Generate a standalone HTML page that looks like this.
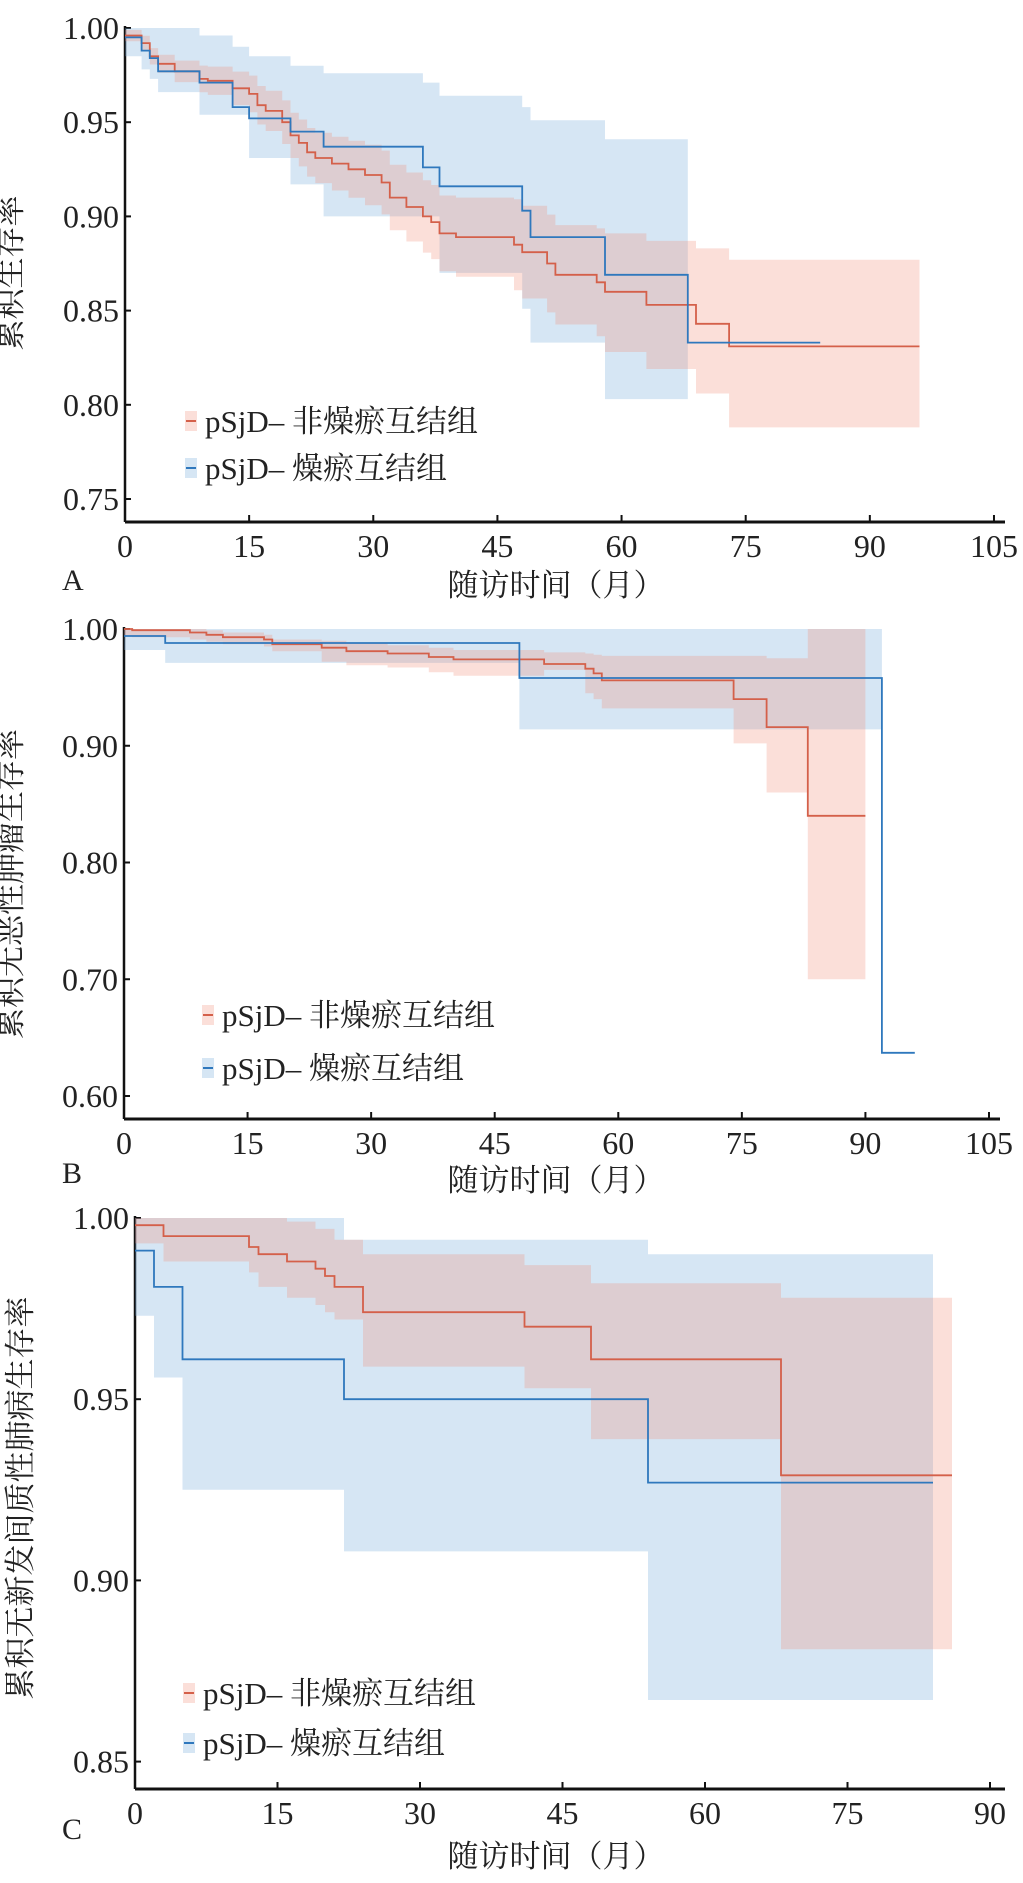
<!DOCTYPE html>
<html><head><meta charset="utf-8"><style>
html,body{margin:0;padding:0;background:#fff;}
svg text{font-family:"Liberation Serif","Noto Serif CJK SC",serif;fill:#222;}
</style></head><body>
<svg id="s" width="1023" height="1878" xmlns="http://www.w3.org/2000/svg"></svg>
<script>
const S=document.getElementById('s');
let H='';
const RL='#d4604a',BL='#2f78bd',RF='rgba(240,140,118,0.28)',BF='rgba(120,172,218,0.30)';
function step(arr,tEnd,X,Y){let p=[];for(let i=0;i<arr.length;i++){const t=arr[i][0],v=arr[i][1];const tn=i+1<arr.length?arr[i+1][0]:tEnd;p.push([X(t),Y(v)]);p.push([X(tn),Y(v)]);}return p;}
function line(arr,tEnd,X,Y,c){const p=step(arr,tEnd,X,Y);H+=`<polyline points="${p.map(q=>q[0].toFixed(1)+','+q[1].toFixed(1)).join(' ')}" fill="none" stroke="${c}" stroke-width="1.8"/>`;}
function band(ci,tEnd,X,Y,c){const u=step(ci.map(a=>[a[0],a[1]]),tEnd,X,Y),l=step(ci.map(a=>[a[0],a[2]]),tEnd,X,Y).reverse();H+=`<polygon points="${u.concat(l).map(q=>q[0].toFixed(1)+','+q[1].toFixed(1)).join(' ')}" fill="${c}" stroke="none"/>`;}
function axes(c){const{x0,xm,yv,yp,ppu,yticks,xticks,axY,axR,top}=c;
 const X=t=>x0+t*xm,Y=v=>yp+(yv-v)*ppu;
 H+=`<line x1="${x0}" y1="${top}" x2="${x0}" y2="${axY}" stroke="#111" stroke-width="2.5"/>`;
 H+=`<line x1="${x0}" y1="${axY}" x2="${axR}" y2="${axY}" stroke="#111" stroke-width="3"/>`;
 yticks.forEach(v=>{const y=Y(v);H+=`<line x1="${x0}" y1="${y}" x2="${x0+6}" y2="${y}" stroke="#111" stroke-width="2"/><text x="${x0-6}" y="${y+11}" font-size="32" text-anchor="end">${v.toFixed(2)}</text>`;});
 xticks.forEach(t=>{const x=X(t);H+=`<line x1="${x}" y1="${axY}" x2="${x}" y2="${axY-7}" stroke="#111" stroke-width="2"/><text x="${x}" y="${axY+35}" font-size="32" text-anchor="middle">${t}</text>`;});
 return [X,Y];}
function legend(x,y1,y2){
 H+=`<rect x="${x-6}" y="${y1-10}" width="12" height="20" fill="${RF}"/><line x1="${x-5}" y1="${y1}" x2="${x+5}" y2="${y1}" stroke="${RL}" stroke-width="2"/>`;
 H+=`<rect x="${x-6}" y="${y2-10}" width="12" height="20" fill="${BF}"/><line x1="${x-5}" y1="${y2}" x2="${x+5}" y2="${y2}" stroke="${BL}" stroke-width="2"/>`;
 H+=`<text x="${x+14}" y="${y1+11}" font-size="31">pSjD– 非燥瘀互结组</text><text x="${x+14}" y="${y2+11}" font-size="31">pSjD– 燥瘀互结组</text>`;}
function labels(letter,ly,xlY,ylX,ylY,ylab){
 H+=`<text x="62" y="${ly+11}" font-size="30">${letter}</text>`;
 H+=`<text x="556" y="${xlY+11}" font-size="31" text-anchor="middle">随访时间（月）</text>`;
 H+=`<text transform="translate(${ylX+11},${ylY}) rotate(-90)" font-size="31" text-anchor="middle">${ylab}</text>`;}

// ---------- Panel A
{const [X,Y]=axes({x0:125,xm:8.276,yv:1.0,yp:28,ppu:1884,yticks:[1.0,0.95,0.9,0.85,0.8,0.75],xticks:[0,15,30,45,60,75,90,105],axY:522,axR:1005,top:26});
 const B=[[0,.995],[2,.988],[3,.984],[4,.977],[9,.971],[13,.958],[15,.952],[20,.945],[24,.937],[36,.926],[38,.916],[48,.903],[49,.889],[58,.869],[68,.833]];
 const Bci=[[0,1,.985],[2,1,.978],[3,1,.973],[4,1,.966],[9,.996,.954],[13,.990,.954],[15,.985,.931],[20,.980,.917],[24,.976,.900],[36,.971,.900],[38,.964,.870],[48,.958,.851],[49,.951,.833],[58,.941,.803]];
 const R=[[0,.996],[2,.992],[3,.985],[4,.981],[6,.977],[9,.973],[10,.972],[13,.968],[15,.965],[16,.959],[17,.956],[19,.950],[20,.943],[21,.939],[22,.934],[23,.931],[25,.928],[27,.925],[29,.922],[31,.918],[32,.910],[34,.905],[36,.900],[37,.897],[38,.891],[40,.889],[47,.885],[48,.881],[51,.875],[52,.869],[57,.865],[58,.860],[63,.853],[69,.843],[73,.831]];
 let Rci=R.filter(a=>a[0]<58).map(a=>{const d=0.003+0.00045*a[0];return [a[0],Math.min(1,a[1]+d),a[1]-d];});
 Rci=Rci.concat([[58,.891,.828],[63,.887,.819],[69,.883,.806],[73,.877,.788]]);
 band(Bci,68,X,Y,BF);band(Rci,96,X,Y,RF);
 line(R,96,X,Y,RL);line(B,84,X,Y,BL);
 legend(191,421,468);labels('A',579,585,10,273,'累积生存率');}

// ---------- Panel B
{const [X,Y]=axes({x0:124,xm:8.238,yv:1.0,yp:629,ppu:1167.5,yticks:[1.0,0.9,0.8,0.7,0.6],xticks:[0,15,30,45,60,75,90,105],axY:1119,axR:1000,top:627});
 const B=[[0,.994],[5,.988],[48,.958],[92,.637]];
 const Bci=[[0,1,.982],[5,1,.971],[48,1,.914]];
 const R=[[0,1],[1,.999],[8,.997],[10,.995],[12,.993],[17,.991],[18,.987],[24,.984],[27,.981],[32,.979],[37,.976],[40,.974],[51,.970],[56,.966],[57,.962],[58,.956],[74,.940],[78,.916],[83,.840]];
 let Rci=R.filter(a=>a[0]<24).map(a=>[a[0],Math.min(1,a[1]+.004),a[1]-.006]);
 Rci=Rci.concat([[24,.990,.972],[27,.988,.969],[32,.986,.967],[37,.984,.963],[40,.982,.960],[51,.980,.965],[56,.979,.945],[57,.978,.940],[58,.977,.932],[74,.977,.902],[78,.975,.860],[83,1,.700]]);
 band(Bci,92,X,Y,BF);band(Rci,90,X,Y,RF);
 line(R,90,X,Y,RL);line(B,96,X,Y,BL);
 legend(208,1015,1068);labels('B',1172,1180,10,884,'累积无恶性肿瘤生存率');}

// ---------- Panel C
{const [X,Y]=axes({x0:135,xm:9.5,yv:1.0,yp:1218,ppu:3624,yticks:[1.0,0.95,0.9,0.85],xticks:[0,15,30,45,60,75,90],axY:1789,axR:1005,top:1216});
 const B=[[0,.991],[2,.981],[5,.961],[22,.950],[54,.927]];
 const Bci=[[0,1,.973],[2,1,.956],[5,1,.925],[22,.994,.908],[54,.990,.867]];
 const R=[[0,.998],[3,.995],[12,.992],[13,.990],[16,.988],[19,.986],[20,.984],[21,.981],[24,.974],[41,.970],[48,.961],[68,.929]];
 const Rci=[[0,1,.993],[3,1,.988],[12,1,.985],[13,1,.981],[16,.999,.978],[19,.997,.976],[20,.997,.974],[21,.994,.972],[24,.990,.959],[41,.987,.953],[48,.982,.939],[68,.978,.881]];
 band(Bci,84,X,Y,BF);band(Rci,86,X,Y,RF);
 line(R,86,X,Y,RL);line(B,84,X,Y,BL);
 legend(189,1693,1743);labels('C',1828,1856,20,1498,'累积无新发间质性肺病生存率');}
S.innerHTML=H;
</script>
</body></html>
